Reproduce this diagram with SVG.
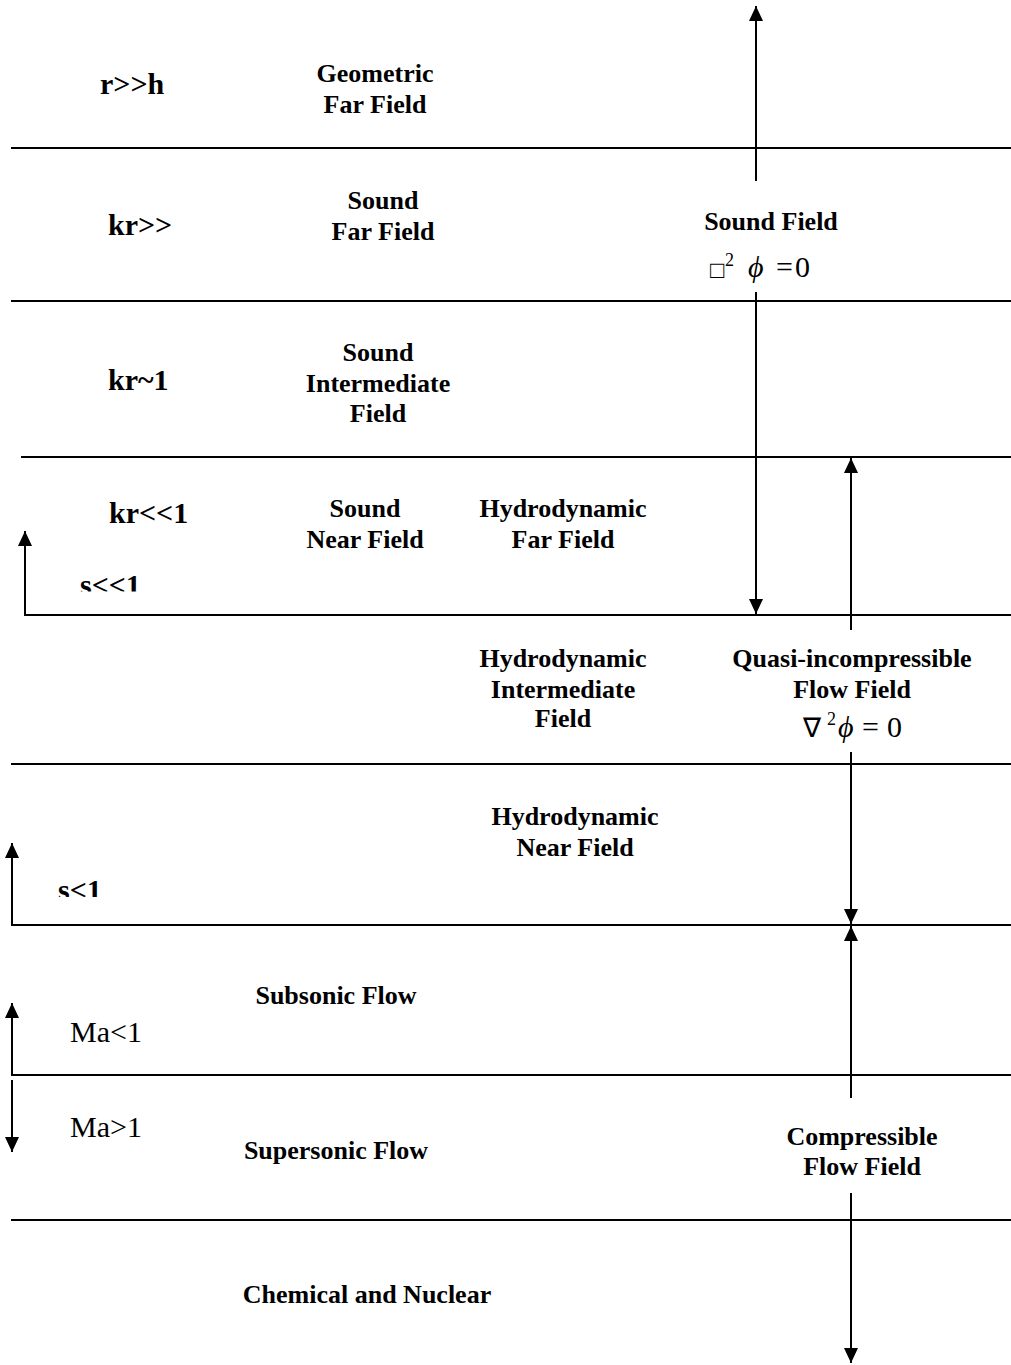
<svg xmlns="http://www.w3.org/2000/svg" width="1011" height="1365" viewBox="0 0 1011 1365">
<style>
.b{font-family:"Liberation Serif","Times New Roman",serif;font-weight:bold;font-size:26px;fill:#000}
.k{font-family:"Liberation Serif","Times New Roman",serif;font-weight:bold;font-size:30px;fill:#000}
.c{text-anchor:middle}
.r{font-family:"Liberation Serif","Times New Roman",serif;font-size:30px;fill:#000}
.ln{stroke:#000;stroke-width:2;fill:none}
</style>
<defs>
<marker id="ah" markerUnits="userSpaceOnUse" markerWidth="15" markerHeight="14" refX="15" refY="7" orient="auto" viewBox="0 0 15 14">
<path d="M0,0 L15,7 L0,14 Z" fill="#000"/>
</marker>
<clipPath id="clipA"><rect x="60" y="550" width="120" height="41.5"/></clipPath>
<clipPath id="clipB"><rect x="40" y="860" width="100" height="37"/></clipPath>
</defs>
<rect width="1011" height="1365" fill="#fff"/>
<g id="connectors">
<line class="ln" x1="11" y1="148" x2="1011" y2="148"/>
<line class="ln" x1="11" y1="301" x2="1011" y2="301"/>
<line class="ln" x1="21" y1="457" x2="1011" y2="457"/>
<path class="ln" d="M1011,615 H25 V531" marker-end="url(#ah)"/>
<line class="ln" x1="11" y1="764" x2="1011" y2="764"/>
<path class="ln" d="M1011,925 H12 V843" marker-end="url(#ah)"/>
<path class="ln" d="M1011,1075 H12 V1003" marker-end="url(#ah)"/>
<line class="ln" x1="12" y1="1080" x2="12" y2="1152" marker-end="url(#ah)"/>
<line class="ln" x1="11" y1="1220" x2="1011" y2="1220"/>
<line class="ln" x1="756" y1="181" x2="756" y2="6" marker-end="url(#ah)"/>
<line class="ln" x1="756" y1="292" x2="756" y2="614" marker-end="url(#ah)"/>
<line class="ln" x1="851" y1="630" x2="851" y2="458" marker-end="url(#ah)"/>
<line class="ln" x1="851" y1="752" x2="851" y2="924" marker-end="url(#ah)"/>
<line class="ln" x1="851" y1="1098" x2="851" y2="926" marker-end="url(#ah)"/>
<line class="ln" x1="851" y1="1193" x2="851" y2="1363" marker-end="url(#ah)"/>
</g>
<g id="cond-rh"><text class="k" x="100" y="94">r&gt;&gt;h</text></g>
<g id="cond-kr-gg"><text class="k" x="108" y="235">kr&gt;&gt;</text></g>
<g id="cond-kr-1"><text class="k" x="108" y="390">kr~1</text></g>
<g id="cond-kr-ll"><text class="k" x="109" y="523">kr&lt;&lt;1</text></g>
<g id="cond-s-ll" clip-path="url(#clipA)"><text class="k" x="80" y="595">s&lt;&lt;1</text></g>
<g id="cond-s-l" clip-path="url(#clipB)"><text class="k" x="58" y="900">s&lt;1</text></g>
<g id="cond-ma-l"><text class="r" x="70" y="1042">Ma&lt;1</text></g>
<g id="cond-ma-g"><text class="r" x="70" y="1137">Ma&gt;1</text></g>
<g id="geo-far"><text class="b c" x="375" y="82">Geometric</text><text class="b c" x="375" y="113">Far Field</text></g>
<g id="sound-far"><text class="b c" x="383" y="209">Sound</text><text class="b c" x="383" y="240">Far Field</text></g>
<g id="sound-inter"><text class="b c" x="378" y="361">Sound</text><text class="b c" x="378" y="392">Intermediate</text><text class="b c" x="378" y="422">Field</text></g>
<g id="sound-near"><text class="b c" x="365" y="517">Sound</text><text class="b c" x="365" y="548">Near Field</text></g>
<g id="hydro-far"><text class="b c" x="563" y="517">Hydrodynamic</text><text class="b c" x="563" y="548">Far Field</text></g>
<g id="hydro-inter"><text class="b c" x="563" y="667">Hydrodynamic</text><text class="b c" x="563" y="698">Intermediate</text><text class="b c" x="563" y="727">Field</text></g>
<g id="hydro-near"><text class="b c" x="575" y="825">Hydrodynamic</text><text class="b c" x="575" y="856">Near Field</text></g>
<g id="subsonic"><text class="b c" x="336" y="1004">Subsonic Flow</text></g>
<g id="supersonic"><text class="b c" x="336" y="1159">Supersonic Flow</text></g>
<g id="chem"><text class="b c" x="367" y="1303">Chemical and Nuclear</text></g>
<g id="sound-field"><text class="b c" x="771" y="230">Sound Field</text>
<text class="r"><tspan x="710" y="278" font-size="24">□</tspan><tspan x="725" y="266" font-size="18">2</tspan><tspan x="748" y="277" font-style="italic">ϕ</tspan><tspan x="776" y="277">=</tspan><tspan x="795" y="277">0</tspan></text></g>
<g id="quasi"><text class="b c" x="852" y="667">Quasi-incompressible</text><text class="b c" x="852" y="698">Flow Field</text>
<text class="r"><tspan x="803" y="737" font-size="27">∇</tspan><tspan x="827" y="725" font-size="18">2</tspan><tspan x="838" y="737" font-style="italic">ϕ</tspan><tspan x="862" y="737">=</tspan><tspan x="887" y="737">0</tspan></text></g>
<g id="compressible"><text class="b c" x="862" y="1145">Compressible</text><text class="b c" x="862" y="1175">Flow Field</text></g>
</svg>
